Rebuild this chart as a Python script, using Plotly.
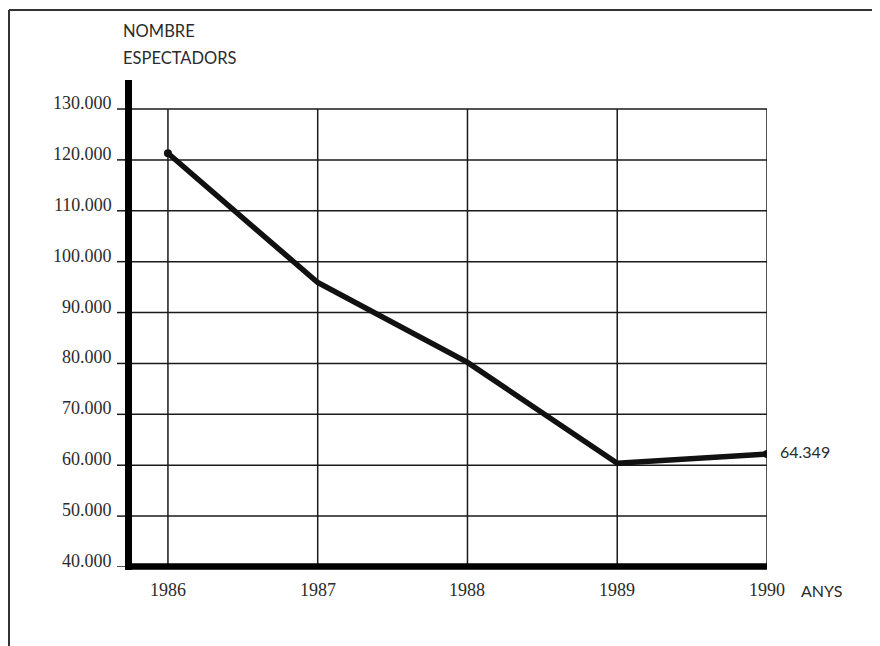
import plotly.graph_objects as go

# ---- data ----
years = [1986, 1987, 1988, 1989, 1990]
spectators = [121300, 95900, 80200, 60400, 62200]
last_label = "64.349"
y_ticks = [40000, 50000, 60000, 70000, 80000, 90000, 100000, 110000, 120000, 130000]
y_tick_labels = ["40.000", "50.000", "60.000", "70.000", "80.000", "90.000",
                 "100.000", "110.000", "120.000", "130.000"]
x_tick_labels = ["1986", "1987", "1988", "1989", "1990"]
y_title = ["NOMBRE", "ESPECTADORS"]
x_title = "ANYS"

# ---- layout constants (page pixels, page has an 8px body margin) ----
W, H = 880, 646
OFF = 8
PX_L, PX_R, PX_T, PX_B = 128, 767, 80, 567   # plot area in page pixels
L = PX_L - OFF
T = PX_T - OFF
R = W - (PX_R - OFF)
B = H - (PX_B - OFF)
pw, ph = PX_R - PX_L, PX_B - PX_T
x_min = years[0] - 40 / 150.0
y_min, y_max = 40000, 135700
INK = "#1a1a1a"
TXT = "#2b2b2b"
NUM_FONT = "Liberation Serif"
LBL_FONT = "Lato"

def px_x(p):  # page pixel -> paper x
    return (p - PX_L) / pw

def px_y(p):  # page pixel -> paper y
    return (PX_B - p) / ph

fig = go.Figure()
fig.add_trace(go.Scatter(
    x=years, y=spectators, mode="lines",
    line=dict(color="#111111", width=5.5),
    hoverinfo="skip", showlegend=False,
))
fig.add_trace(go.Scatter(
    x=[years[0], years[-1]], y=[spectators[0], spectators[-1]], mode="markers",
    marker=dict(color="#111111", size=8),
    hoverinfo="skip", showlegend=False,
))

shapes = []
for v in y_ticks[1:]:
    shapes.append(dict(type="line", xref="paper", yref="y", x0=0, x1=1, y0=v, y1=v,
                       line=dict(color=INK, width=1.5), layer="below"))
for yr in years:
    shapes.append(dict(type="line", xref="x", yref="y", x0=yr, x1=yr,
                       y0=y_ticks[0], y1=y_ticks[-1],
                       line=dict(color=INK, width=1.5), layer="below"))
for v in y_ticks:
    shapes.append(dict(type="line", xref="paper", yref="y",
                       x0=px_x(117), x1=px_x(128), y0=v, y1=v,
                       line=dict(color=INK, width=1.5)))
shapes.append(dict(type="line", xref="paper", yref="paper",
                   x0=px_x(128.5), x1=px_x(128.5), y0=px_y(570), y1=1,
                   line=dict(color="#000000", width=7)))
shapes.append(dict(type="line", xref="paper", yref="paper",
                   x0=px_x(125), x1=1, y0=px_y(566.5), y1=px_y(566.5),
                   line=dict(color="#000000", width=6.5)))
shapes.append(dict(type="line", xref="paper", yref="paper",
                   x0=px_x(9), x1=px_x(880), y0=px_y(10), y1=px_y(10),
                   line=dict(color="#333333", width=2)))
shapes.append(dict(type="line", xref="paper", yref="paper",
                   x0=px_x(9), x1=px_x(9), y0=px_y(10), y1=px_y(650),
                   line=dict(color="#333333", width=2)))
shapes.append(dict(type="line", xref="paper", yref="paper",
                   x0=px_x(879), x1=px_x(879), y0=px_y(10), y1=px_y(650),
                   line=dict(color="#bbbbbb", width=1)))

annotations = []
for v, lab in zip(y_ticks, y_tick_labels):
    annotations.append(dict(xref="paper", yref="y", x=0, y=v, text=lab,
                            showarrow=False, xanchor="right", yanchor="middle",
                            xshift=-14, yshift=6,
                            font=dict(family=NUM_FONT, size=18, color=TXT)))
for yr, lab in zip(years, x_tick_labels):
    annotations.append(dict(xref="x", yref="paper", x=yr, y=0, text=lab,
                            showarrow=False, xanchor="center", yanchor="middle",
                            yshift=-23,
                            font=dict(family=NUM_FONT, size=18, color=TXT)))
annotations.append(dict(xref="paper", yref="paper", x=1, y=0, text=x_title,
                        showarrow=False, xanchor="left", yanchor="middle",
                        xshift=32, yshift=-23,
                        font=dict(family=LBL_FONT, size=16, color=TXT)))
annotations.append(dict(xref="x", yref="y", x=years[-1], y=spectators[-1], text=last_label,
                        showarrow=False, xanchor="left", yanchor="middle",
                        xshift=11, yshift=3,
                        font=dict(family=LBL_FONT, size=16, color=TXT)))
annotations.append(dict(xref="paper", yref="paper", x=px_x(121), y=px_y(31),
                        text=y_title[0], showarrow=False, xanchor="left", yanchor="middle",
                        font=dict(family=LBL_FONT, size=16.5, color=TXT)))
annotations.append(dict(xref="paper", yref="paper", x=px_x(121), y=px_y(58),
                        text=y_title[1], showarrow=False, xanchor="left", yanchor="middle",
                        font=dict(family=LBL_FONT, size=16.5, color=TXT)))

fig.update_layout(
    width=W, height=H, autosize=False,
    margin=dict(l=L, r=R, t=T, b=B, pad=0),
    paper_bgcolor="white", plot_bgcolor="white",
    xaxis=dict(range=[x_min, years[-1]], showgrid=False, zeroline=False,
               showticklabels=False, ticks="", showline=False, fixedrange=True),
    yaxis=dict(range=[y_min, y_max], showgrid=False, zeroline=False,
               showticklabels=False, ticks="", showline=False, fixedrange=True),
    shapes=shapes, annotations=annotations, showlegend=False,
)

fig.write_html("out.html")
